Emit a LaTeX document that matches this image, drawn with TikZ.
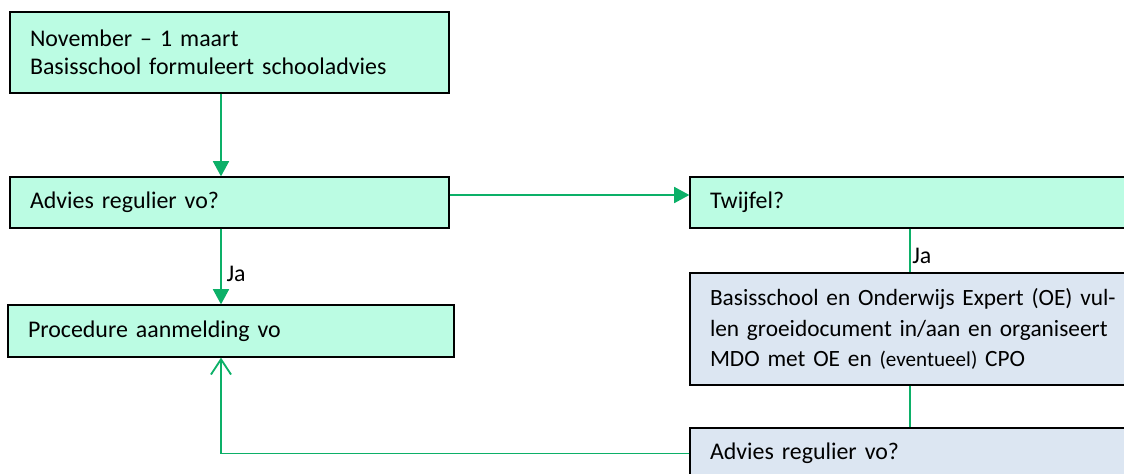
\documentclass[tikz,border=0pt]{standalone}
\usepackage{fontspec}
\setmainfont{Carlito}
\usepackage{tikz}
\usetikzlibrary{calc,positioning,arrows.meta}
\definecolor{mint}{RGB}{187,252,227}
\definecolor{paleblue}{RGB}{220,230,242}
\definecolor{flowgreen}{RGB}{12,176,104}

\begin{document}
\begin{tikzpicture}[
        box/.style={draw=black, line width=0.9pt, rectangle, align=left, inner xsep=0.5cm,
            font=\fontsize{17}{20}\selectfont},
        mintbox/.style={box, fill=mint},
        bluebox/.style={box, fill=paleblue},
        flow/.style={draw=flowgreen, line width=1.3pt},
        arr/.style={flow, -{Triangle[length=3.8mm, width=4mm]}},
        openarr/.style={flow, -{Straight Barb[length=3.8mm, width=5mm]}}
    ]
        \useasboundingbox (0,0) rectangle (28.1,-11.825);
        \clip (0,0) rectangle (28.1,-11.825);

        \node (start) [mintbox, text width=9.975cm, minimum height=2.025cm] at (5.7375,-1.3125)
            {November -- 1 maart\\Basisschool formuleert schooladvies};
        \node (advies) [mintbox, text width=9.975cm, minimum height=1.275cm] at (5.7375,-5.0625) {Advies regulier vo?};
        \node (aanmelding) [mintbox, text width=10.15cm, minimum height=1.3cm] at (5.775,-8.275) {Procedure aanmelding vo};
        \node (twijfel) [mintbox, text width=11cm, minimum height=1.275cm] at (23.25,-5.0625) {Twijfel?};
        \node (mdo) [bluebox, text width=11cm, minimum height=2.8cm, font=\fontsize{16.6}{21.5}\selectfont] at (23.25,-8.225)
            {Basisschool en Onderwijs Expert (OE) vul-\\len groeidocument in/aan en organiseert\\MDO met OE en {\fontsize{15}{21.5}\selectfont(eventueel)} CPO};
        \node (advies2) [bluebox, text width=11cm, minimum height=1.275cm] at (23.25,-11.3375) {Advies regulier vo?};

        % vertical and horizontal lines of the arrows
        \coordinate (spine) at (5.525,0);
        \coordinate (rspine) at (22.75,0);
        \coordinate (hline) at (0,-4.875);

        \draw[arr] (start.south -| spine) -- (advies.north -| spine);
        \draw[arr] (advies.south -| spine) -- node[pos=0.6, right, font=\fontsize{17}{20}\selectfont] {Ja} (aanmelding.north -| spine);
        \draw[arr] (advies.east |- hline) -- (twijfel.west |- hline);
        \draw[flow] (twijfel.south -| rspine) -- node[pos=0.62, right, inner xsep=1pt, font=\fontsize{17}{20}\selectfont] {Ja} (mdo.north -| rspine);
        \draw[flow] (mdo.south -| rspine) -- (advies2.north -| rspine);
        \draw[openarr] (advies2.west) -| (aanmelding.south -| spine);
    \end{tikzpicture}
\end{document}
